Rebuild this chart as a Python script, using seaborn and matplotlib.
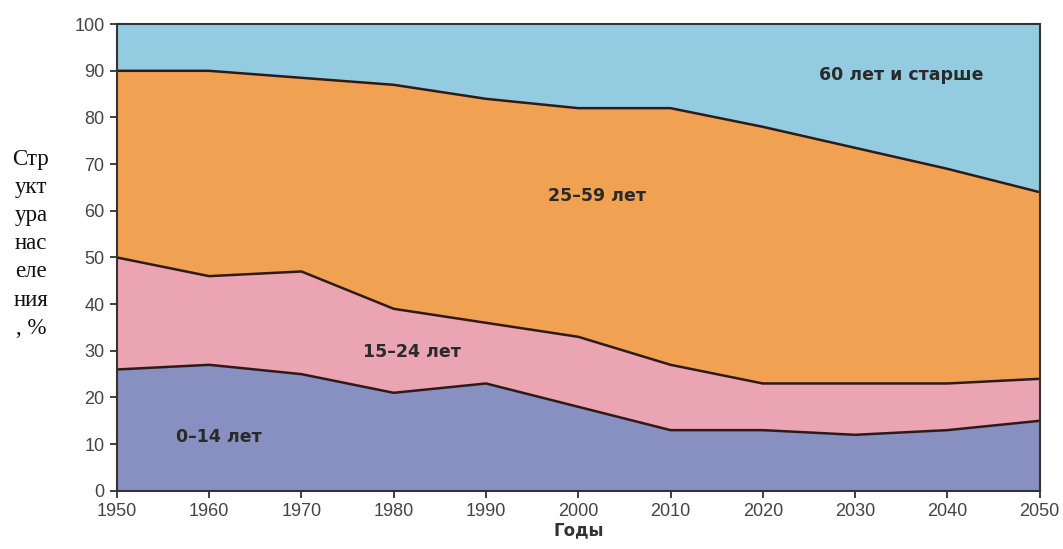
import matplotlib
matplotlib.use("Agg")
import matplotlib.pyplot as plt
import numpy as np
import pandas as pd
import seaborn as sns

# Population structure by age group, % of total
years = [1950, 1960, 1970, 1980, 1990, 2000, 2010, 2020, 2030, 2040, 2050]
age_0_14 = [26, 27, 25, 21, 23, 18, 13, 13, 12, 13, 15]
age_15_24 = [24, 19, 22, 18, 13, 15, 14, 10, 11, 10, 9]
age_25_59 = [40, 44, 41.5, 48, 48, 49, 55, 55, 50.5, 46, 40]
age_60_plus = [10, 10, 11.5, 13, 16, 18, 18, 22, 26.5, 31, 36]

groups = ["0–14 лет", "15–24 лет", "25–59 лет", "60 лет и старше"]
colors = ["#8790c0", "#eba4b1", "#f0a252", "#93cbe0"]

df = pd.DataFrame({
    "year": years,
    groups[0]: age_0_14,
    groups[1]: age_15_24,
    groups[2]: age_25_59,
    groups[3]: age_60_plus,
})

sns.set_style("ticks")
plt.rcParams["font.family"] = ["Liberation Sans", "DejaVu Sans"]

fig = plt.figure(figsize=(10.63, 5.49), dpi=100)
ax = fig.add_axes([0.110, 0.106, 0.868, 0.850])

ax.stackplot(df["year"], *[df[g] for g in groups], colors=colors, linewidth=0)

# Dark boundary lines between the bands
cum = df[groups].cumsum(axis=1)
for g in groups[:-1]:
    sns.lineplot(x=df["year"], y=cum[g], ax=ax, color="#2e1a1a", linewidth=1.8)

ax.set_xlim(1950, 2050)
ax.set_ylim(0, 100)
ax.set_xticks(years)
ax.set_yticks(range(0, 101, 10))
ax.tick_params(axis="both", direction="out", length=5, width=1.3,
               color="#333333", labelsize=13, labelcolor="#444444", pad=4)
for side in ["left", "bottom", "top", "right"]:
    ax.spines[side].set_visible(True)
    ax.spines[side].set_color("#333333")
    ax.spines[side].set_linewidth(1.5)

ax.set_xlabel("Годы", fontsize=12, fontweight="bold", color="#333333",
              labelpad=1, family=["DejaVu Sans"])
ax.set_ylabel("")

fig.text(0.029, 0.556, "Стр\nукт\nура\nнас\nеле\nния\n, %",
         ha="center", va="center", fontsize=16.5, linespacing=1.45,
         family=["Liberation Serif", "DejaVu Serif"], color="#111111")

label_kw = dict(fontsize=12.5, fontweight="bold", color="#2a2a2a",
                ha="center", va="center", family=["DejaVu Sans"])
ax.text(1961.0, 11.5, groups[0], **label_kw)
ax.text(1982, 29.8, groups[1], **label_kw)
ax.text(2002, 63.2, groups[2], **label_kw)
ax.text(2035, 89, groups[3], **label_kw)

fig.savefig("out.png", dpi=100)
